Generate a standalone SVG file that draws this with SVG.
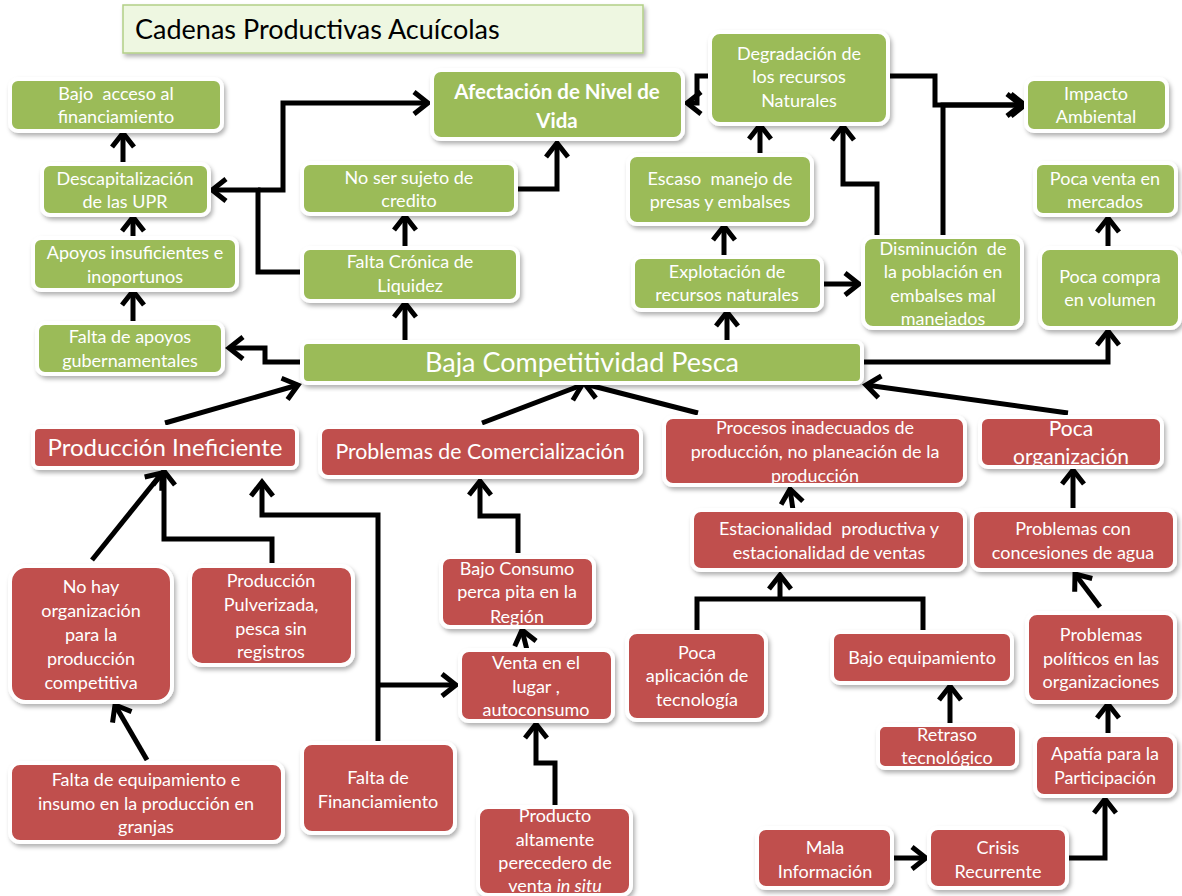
<svg xmlns="http://www.w3.org/2000/svg" width="1182" height="896" viewBox="0 0 1182 896">
<defs>
<filter id="sh" x="-10%" y="-10%" width="125%" height="130%">
<feDropShadow dx="2" dy="3" stdDeviation="2" flood-color="#000" flood-opacity="0.3"/>
</filter>
<marker id="ar" markerUnits="userSpaceOnUse" markerWidth="24" markerHeight="28" viewBox="0 0 24 28" refX="20" refY="14" orient="auto">
<path d="M6,3 L20,14 L6,25" fill="none" stroke="#000" stroke-width="5" stroke-linejoin="miter"/>
</marker>
</defs>
<style>
.g{fill:#9BBB59;stroke:#fff;stroke-width:4;filter:url(#sh)}
.r{fill:#C0504D;stroke:#fff;stroke-width:4;filter:url(#sh)}
text{font-family:Lato,"Open Sans","Liberation Sans",sans-serif;fill:#fff;text-anchor:middle;font-size:18px}
.pre{white-space:pre}
.c path{fill:none;stroke:#000;stroke-width:5;marker-end:url(#ar)}
.c path.n{marker-end:none}
</style>
<rect width="1182" height="896" fill="#fff"/>

<g id="title">
<rect x="123" y="5" width="520" height="48" fill="#EEF7E1" stroke="#B3CF86" stroke-width="1.5" filter="url(#sh)"/>
<text x="135" y="39" style="fill:#000;text-anchor:start;font-size:27px">Cadenas Productivas Acuícolas</text>
</g>

<g class="c" id="connectors">
<path d="M302,272 H258 V190 H212"/>
<path d="M258,190 H283 V103 H428"/>
<path d="M518,189 H557 V143"/>
<path d="M405,342 V303"/>
<path d="M405,248 V216"/>
<path d="M123,164 V133"/>
<path d="M133,238 V217"/>
<path d="M133,323 V291"/>
<path d="M302,362 H265 V348 H229"/>
<path d="M165,423 L298,385"/>
<path d="M482,423 L582,385"/>
<path d="M698,413 L585,384"/>
<path d="M1068,413 L866,385"/>
<path d="M727,342 V312"/>
<path d="M724,257 V226"/>
<path d="M760,155 V125"/>
<path d="M822,284 H859"/>
<path d="M877,243 V184 H843 V126"/>
<path d="M888,76 H935 V105 H1025"/>
<path d="M943,237 V105 H1021"/>
<path d="M709,76 H697 V103 H687"/>
<path d="M862,362 H1108 V331"/>
<path d="M1108,248 V218"/>
<path d="M92,560 L162,473"/>
<path d="M272,563 V539 H164 V471"/>
<path d="M378,743 V515 H262 V482"/>
<path d="M378,685 H456"/>
<path d="M147,760 L115,705"/>
<path d="M518,553 V516 H480 V481"/>
<path d="M527,650 L522,630"/>
<path d="M555,805 V763 H536 V724"/>
<path class="n" d="M697,630 V599 H923 V630"/>
<path d="M780,599 V575"/>
<path d="M793,510 L790,489"/>
<path d="M1073,510 V470"/>
<path d="M1100,607 L1075,574"/>
<path d="M1108,733 V704"/>
<path d="M950,725 V686"/>
<path d="M893,858 H926"/>
<path d="M1067,858 H1105 V799"/>
</g>

<g id="n1"><rect class="g" x="10" y="79" width="212" height="52" rx="8"/><text class="pre" x="116" y="100">Bajo  acceso al</text><text x="116" y="123">financiamiento</text></g>
<g id="n2"><rect class="g" x="42" y="164" width="167" height="51" rx="8"/><text x="125" y="185">Descapitalización</text><text x="125" y="208">de las UPR</text></g>
<g id="n3"><rect class="g" x="33" y="238" width="204" height="52" rx="8"/><text x="135" y="259">Apoyos insuficientes e</text><text x="135" y="283">inoportunos</text></g>
<g id="n4"><rect class="g" x="37" y="323" width="186" height="51" rx="8"/><text x="130" y="343">Falta de apoyos</text><text x="130" y="367">gubernamentales</text></g>
<g id="n5"><rect class="g" x="432" y="70" width="251" height="69" rx="9"/><text x="557" y="99" style="font-weight:bold;font-size:20.5px">Afectación de Nivel de</text><text x="557" y="128" style="font-weight:bold;font-size:20.5px">Vida</text></g>
<g id="n6"><rect class="g" x="302" y="163" width="214" height="51" rx="8"/><text x="409" y="184">No ser sujeto de</text><text x="409" y="207">credito</text></g>
<g id="n7"><rect class="g" x="302" y="248" width="216" height="53" rx="8"/><text x="410" y="268">Falta Crónica de</text><text x="410" y="292">Liquidez</text></g>
<g id="n8"><rect class="g" x="302" y="342" width="560" height="41" rx="6"/><text x="582" y="372" style="font-size:27px">Baja Competitividad Pesca</text></g>
<g id="n9"><rect class="g" x="710" y="32" width="178" height="92" rx="10"/><text x="799" y="60">Degradación de</text><text x="799" y="83">los recursos</text><text x="799" y="107">Naturales</text></g>
<g id="n10"><rect class="g" x="628" y="155" width="184" height="69" rx="9"/><text class="pre" x="720" y="185">Escaso  manejo de</text><text x="720" y="208">presas y embalses</text></g>
<g id="n11"><rect class="g" x="633" y="257" width="189" height="53" rx="8"/><text x="727" y="278">Explotación de</text><text x="727" y="301">recursos naturales</text></g>
<g id="n12"><rect class="g" x="863" y="237" width="159" height="91" rx="10"/><text class="pre" x="943" y="255">Disminución  de</text><text x="943" y="278">la población en</text><text x="943" y="302">embalses mal</text><text x="943" y="325">manejados</text></g>
<g id="n13"><rect class="g" x="1026" y="79" width="141" height="52" rx="8"/><text x="1096" y="100">Impacto</text><text x="1096" y="123">Ambiental</text></g>
<g id="n14"><rect class="g" x="1035" y="163" width="141" height="52" rx="8"/><text x="1105" y="185">Poca venta en</text><text x="1105" y="208">mercados</text></g>
<g id="n15"><rect class="g" x="1040" y="248" width="140" height="80" rx="10"/><text x="1110" y="283">Poca compra</text><text x="1110" y="306">en volumen</text></g>

<g id="n16"><rect class="r" x="33" y="427" width="264" height="41" rx="6"/><text x="165" y="456" style="font-size:24px">Producción Ineficiente</text></g>
<g id="n17"><rect class="r" x="320" y="427" width="321" height="50" rx="8"/><text x="480" y="459" style="font-size:21.3px">Problemas de Comercialización</text></g>
<g id="n18"><rect class="r" x="664" y="417" width="301" height="68" rx="9"/><text x="815" y="434">Procesos inadecuados de</text><text x="815" y="458">producción, no planeación de la</text><text x="815" y="482">producción</text></g>
<g id="n19"><rect class="r" x="980" y="417" width="182" height="50" rx="8"/><text x="1071" y="436" style="font-size:21px">Poca</text><text x="1071" y="464" style="font-size:21px">organización</text></g>
<g id="n20"><rect class="r" x="692" y="510" width="273" height="60" rx="9"/><text class="pre" x="829" y="535">Estacionalidad  productiva y</text><text x="829" y="559">estacionalidad de ventas</text></g>
<g id="n21"><rect class="r" x="972" y="510" width="203" height="60" rx="9"/><text x="1073" y="535">Problemas con</text><text x="1073" y="559">concesiones de agua</text></g>
<g id="n22"><rect class="r" x="10" y="566" width="162" height="136" rx="16"/><text x="91" y="593">No hay</text><text x="91" y="617">organización</text><text x="91" y="641">para la</text><text x="91" y="665">producción</text><text x="91" y="689">competitiva</text></g>
<g id="n23"><rect class="r" x="190" y="566" width="163" height="99" rx="12"/><text x="271" y="587">Producción</text><text x="271" y="611">Pulverizada,</text><text x="271" y="635">pesca sin</text><text x="271" y="658">registros</text></g>
<g id="n24"><rect class="r" x="10" y="763" width="273" height="79" rx="10"/><text x="146" y="786">Falta de equipamiento e</text><text x="146" y="810">insumo en la producción en</text><text x="146" y="833">granjas</text></g>
<g id="n25"><rect class="r" x="302" y="743" width="153" height="90" rx="10"/><text x="378" y="784">Falta de</text><text x="378" y="808">Financiamiento</text></g>
<g id="n26"><rect class="r" x="441" y="557" width="153" height="70" rx="9"/><text x="517" y="575">Bajo Consumo</text><text x="517" y="598">perca pita en la</text><text x="517" y="623">Región</text></g>
<g id="n27"><rect class="r" x="460" y="650" width="153" height="71" rx="9"/><text x="536" y="669">Venta en el</text><text x="536" y="693">lugar ,</text><text x="536" y="716">autoconsumo</text></g>
<g id="n28"><rect class="r" x="478" y="807" width="153" height="88" rx="10"/><text x="555" y="822">Producto</text><text x="555" y="846">altamente</text><text x="555" y="869">perecedero de</text><text x="555" y="892">venta <tspan style="font-style:italic">in situ</tspan></text></g>
<g id="n29"><rect class="r" x="627" y="632" width="139" height="88" rx="10"/><text x="697" y="659">Poca</text><text x="697" y="682">aplicación de</text><text x="697" y="706">tecnología</text></g>
<g id="n30"><rect class="r" x="832" y="632" width="180" height="51" rx="8"/><text x="922" y="664">Bajo equipamiento</text></g>
<g id="n31"><rect class="r" x="878" y="725" width="139" height="43" rx="7"/><text x="947" y="741">Retraso</text><text x="947" y="764">tecnológico</text></g>
<g id="n32"><rect class="r" x="1027" y="613" width="148" height="89" rx="10"/><text x="1101" y="641">Problemas</text><text x="1101" y="665">políticos en las</text><text x="1101" y="688">organizaciones</text></g>
<g id="n33"><rect class="r" x="1035" y="735" width="140" height="61" rx="9"/><text x="1105" y="760">Apatía para la</text><text x="1105" y="784">Participación</text></g>
<g id="n34"><rect class="r" x="757" y="828" width="135" height="60" rx="9"/><text x="825" y="854">Mala</text><text x="825" y="878">Información</text></g>
<g id="n35"><rect class="r" x="929" y="828" width="138" height="60" rx="9"/><text x="998" y="854">Crisis</text><text x="998" y="878">Recurrente</text></g>
</svg>
